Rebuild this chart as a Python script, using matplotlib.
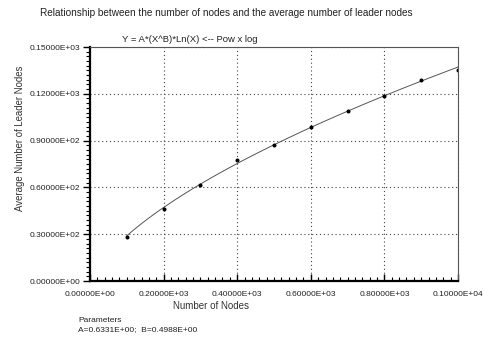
import numpy as np
import matplotlib
matplotlib.use("Agg")
import matplotlib.pyplot as plt
from matplotlib.ticker import MultipleLocator, FuncFormatter

plt.rcParams['font.family'] = ['Liberation Sans', 'DejaVu Sans']

# measured points
nodes = [100, 200, 300, 400, 500, 600, 700, 800, 900, 1000]
leaders = [28.5, 46.4, 61.3, 77.4, 87.0, 98.7, 109.2, 118.6, 129.1, 135.1]

# fitted model parameters shown on the chart
A = 0.6331
B = 0.4988


def sci_fmt(v, pos=None):
    if v == 0:
        return "0.00000E+00"
    e = int(np.floor(np.log10(abs(v)))) + 1
    m = v / 10.0 ** e
    return "{:.5f}E{:+03d}".format(m, e)


fig = plt.figure(figsize=(4.85, 3.4), dpi=100)
ax = fig.add_axes([90 / 485, 1 - 281 / 340, 368 / 485, 234 / 340])

xfit = np.linspace(min(nodes), max(nodes), 200)
yfit = A * xfit ** B * np.log(xfit)
ax.plot(xfit, yfit, color='#555555', linewidth=0.7)
ax.plot(nodes, leaders, 'o', color='black', markersize=1.9)

ax.set_xlim(0, 1000)
ax.set_ylim(0, 150)
ax.xaxis.set_major_locator(MultipleLocator(200))
ax.xaxis.set_minor_locator(MultipleLocator(20))
ax.yaxis.set_major_locator(MultipleLocator(30))
ax.yaxis.set_minor_locator(MultipleLocator(3))
ax.xaxis.set_major_formatter(FuncFormatter(sci_fmt))
ax.yaxis.set_major_formatter(FuncFormatter(sci_fmt))

ax.tick_params(axis='x', which='both', direction='in', labelsize=6, pad=7, labelcolor='#222222')
ax.tick_params(axis='y', which='both', direction='out', labelsize=6, pad=2, labelcolor='#222222')
ax.tick_params(which='major', length=5, width=1)
ax.tick_params(which='minor', length=3, width=0.8)

ax.grid(True, which='major', color='#444444', linestyle=(0, (1, 2.5)), linewidth=0.8)

ax.spines['left'].set_linewidth(1.6)
ax.spines['bottom'].set_linewidth(1.6)
ax.spines['top'].set_linewidth(0.8)
ax.spines['right'].set_linewidth(0.8)
ax.spines['top'].set_color('#555555')
ax.spines['right'].set_color('#555555')

fig.text(20 / 485, 1 - 138 / 340, 'Average Number of Leader Nodes', rotation=90,
         fontsize=6.9, color='#333333', va='center', ha='center')
fig.text(40 / 485, 1 - 13 / 340, 'Relationship between the number of nodes and the average number of leader nodes',
         fontsize=7.2, color='#222222', va='center', ha='left')
fig.text(122 / 485, 1 - 39 / 340, 'Y = A*(X^B)*Ln(X) <-- Pow x log',
         fontsize=6.8, color='#222222', va='center', ha='left')
fig.text(211 / 485, 1 - 306 / 340, 'Number of Nodes',
         fontsize=7, color='#333333', va='center', ha='center')
fig.text(78 / 485, 1 - 321 / 340, 'Parameters',
         fontsize=6, color='#222222', va='center', ha='left')
fig.text(78 / 485, 1 - 330 / 340, 'A={:.4f}E+00;  B={:.4f}E+00'.format(A, B),
         fontsize=6, color='#222222', va='center', ha='left')

plt.savefig('out.png', dpi=100)
